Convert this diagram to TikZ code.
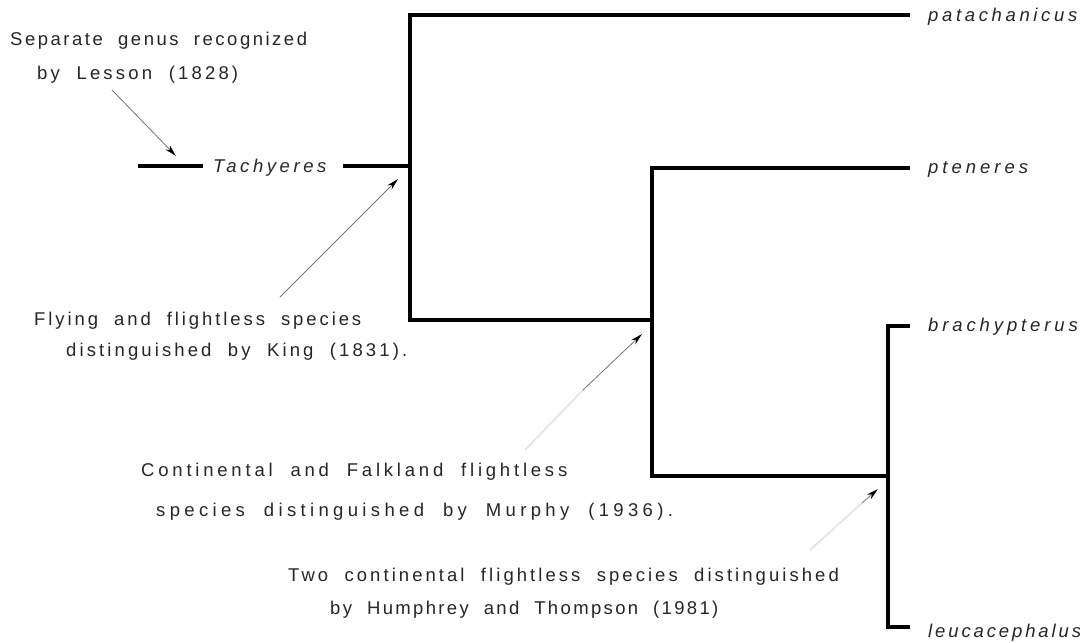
\documentclass[tikz,border=0pt]{standalone}
\usepackage{fontspec}
\usetikzlibrary{arrows.meta}
\newfontfamily\lblfont[WordSpace=2,Ligatures=NoCommon]{Liberation Sans}
\begin{document}
\begin{tikzpicture}[x=1pt,y=-1pt,
  branch/.style={line width=3.2pt,line join=miter,line cap=rect,draw=black},
  lbl/.style={anchor=base west,inner sep=0pt,text=black!85,font=\lblfont\fontsize{18.5}{22}\selectfont\addfontfeature{LetterSpace=#1}},
  taxon/.style={anchor=base west,inner sep=0pt,text=black!85,font=\lblfont\itshape\fontsize{18.5}{22}\selectfont\addfontfeature{LetterSpace=#1}},
  pointer/.style={line width=0.8pt,draw=black!55,-{Stealth[length=12pt,width=6pt,color=black]}},
  faint/.style={line width=1.8pt,draw=black!10}]
\fill[white] (0,0) rectangle (1080,643);
\useasboundingbox (0,0) rectangle (1080,643);
% tree joints
\coordinate (pa) at (908,15);
\coordinate (rt) at (410,15);
\coordinate (rb) at (410,320);
\coordinate (n2) at (652,320);
\coordinate (pt) at (908,168);
\coordinate (v2t) at (652,168);
\coordinate (v2b) at (652,476);
\coordinate (n3) at (888,476);
\coordinate (br) at (908,326);
\coordinate (v3t) at (888,326);
\coordinate (v3b) at (888,627);
\coordinate (le) at (908,627);
\coordinate (ts) at (140,166);
\coordinate (te) at (201,166);
\coordinate (tr) at (345,166);
\coordinate (rm) at (410,166);
\draw[branch] (pa) -- (rt) -- (rb) -- (n2);
\draw[branch] (pt) -- (v2t) -- (v2b) -- (n3);
\draw[branch] (br) -- (v3t) -- (v3b) -- (le);
\draw[branch] (ts) -- (te);
\draw[branch] (tr) -- (rm);
% labels
\node[lbl=13.6] (sep) at (10,45) {Separate genus recognized};
\node[lbl=17.2] (les) at (37,79) {by Lesson (1828)};
\node[taxon=19.3] (tach) at (213,172) {Tachyeres};
\node[lbl=15.7] (fly) at (34,325) {Flying and flightless species};
\node[lbl=16.8] (king) at (66,356) {distinguished by King (1831).};
\node[lbl=20.5] (cont) at (141,476) {Continental and Falkland flightless};
\node[lbl=23.5] (mur) at (156,516) {species distinguished by Murphy (1936).};
\node[lbl=16.5] (two) at (288,581) {Two continental flightless species distinguished};
\node[lbl=12.7] (hum) at (330,614) {by Humphrey and Thompson (1981)};
\node[taxon=19.7] (pat) at (928,21) {patachanicus};
\node[taxon=21.6] (pte) at (928,173) {pteneres};
\node[taxon=21] (bra) at (928,331) {brachypterus};
\node[taxon=15.6] (leu) at (928,637) {leucacephalus};
% pointers
\coordinate (a1s) at (112,90);
\coordinate (a1e) at (176,156);
\draw[pointer] (a1s) -- (a1e);
\coordinate (a2s) at (280,297);
\coordinate (a2e) at (398,179);
\draw[pointer] (a2s) -- (a2e);
\coordinate (a3f) at (525,450);
\coordinate (a3s) at (583,390);
\coordinate (a3e) at (642,334);
\draw[faint] (a3f) -- (a3s);
\draw[pointer] (a3s) -- (a3e);
\coordinate (a4f) at (810,550);
\coordinate (a4s) at (862,503);
\coordinate (a4e) at (878,489);
\draw[faint] (a4f) -- (a4s);
\draw[pointer] (a4s) -- (a4e);
\end{tikzpicture}
\end{document}
